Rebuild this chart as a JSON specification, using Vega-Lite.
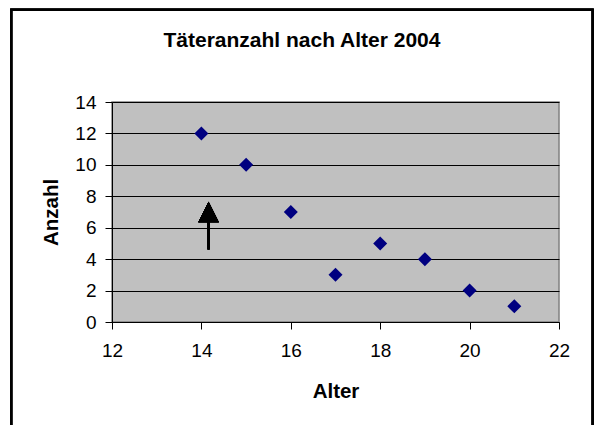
{
  "$schema": "https://vega.github.io/schema/vega-lite/v6.json",
  "width": 447,
  "height": 220,
  "autosize": {"type": "none"},
  "padding": {"left": 112, "top": 102, "right": 36, "bottom": 103},
  "background": "#ffffff",
  "title": {
    "text": "Täteranzahl nach Alter 2004",
    "font": "Liberation Sans",
    "fontSize": 21,
    "fontWeight": "bold",
    "color": "#000000",
    "anchor": "middle",
    "frame": "bounds",
    "baseline": "alphabetic",
    "offset": -59
  },
  "data": {
    "values": [
      {"Alter": 14, "Anzahl": 12},
      {"Alter": 15, "Anzahl": 10},
      {"Alter": 16, "Anzahl": 7},
      {"Alter": 17, "Anzahl": 3},
      {"Alter": 18, "Anzahl": 5},
      {"Alter": 19, "Anzahl": 4},
      {"Alter": 20, "Anzahl": 2},
      {"Alter": 21, "Anzahl": 1}
    ]
  },
  "layer": [
    {
      "mark": {"type": "rect", "fill": null, "stroke": "#000000", "strokeWidth": 2, "clip": false},
      "encoding": {
        "x": {"datum": 9.745, "type": "quantitative"},
        "x2": {"datum": 22.755},
        "y": {"datum": -7, "type": "quantitative"},
        "y2": {"datum": 19.87}
      }
    },
    {
      "mark": {"type": "point", "shape": "diamond", "filled": true, "color": "#000080", "size": 196, "opacity": 1},
      "encoding": {
        "x": {
          "field": "Alter",
          "type": "quantitative",
          "scale": {"domain": [12, 22], "nice": false, "zero": false},
          "axis": {
            "title": "Alter",
            "values": [12, 14, 16, 18, 20, 22],
            "tickCount": 30,
            "format": "d",
            "grid": false,
            "labelPadding": 12,
            "titlePadding": 21
          }
        },
        "y": {
          "field": "Anzahl",
          "type": "quantitative",
          "scale": {"domain": [0, 14], "nice": false, "zero": false},
          "axis": {
            "title": "Anzahl",
            "values": [0, 2, 4, 6, 8, 10, 12, 14],
            "tickCount": 30,
            "format": "d",
            "grid": true,
            "gridColor": "#000000",
            "gridOpacity": 1,
            "gridWidth": 1,
            "labelPadding": 9,
            "titlePadding": 13
          }
        }
      }
    },
    {
      "mark": {"type": "rule", "color": "#000000", "strokeWidth": 2},
      "encoding": {
        "x": {"datum": 14.16, "type": "quantitative"},
        "y": {"datum": 4.62, "type": "quantitative"},
        "y2": {"datum": 6.5}
      }
    },
    {
      "mark": {"type": "point", "shape": "M0,-1L1,1L-1,1Z", "filled": true, "color": "#000000", "size": 420, "opacity": 1},
      "encoding": {
        "x": {"datum": 14.16, "type": "quantitative"},
        "y": {"datum": 7.0, "type": "quantitative"}
      }
    }
  ],
  "config": {
    "view": {"fill": "#C0C0C0", "stroke": "#808080", "strokeWidth": 1.5},
    "axis": {
      "labelFont": "Liberation Sans",
      "labelFontSize": 19,
      "labelColor": "#000000",
      "titleFont": "Liberation Sans",
      "titleFontSize": 20.5,
      "titleFontWeight": "bold",
      "titleColor": "#000000",
      "domainColor": "#000000",
      "domainWidth": 1,
      "tickColor": "#000000",
      "tickSize": 7,
      "tickWidth": 1,
      "labelFlush": false,
      "labelOverlap": false
    }
  }
}
